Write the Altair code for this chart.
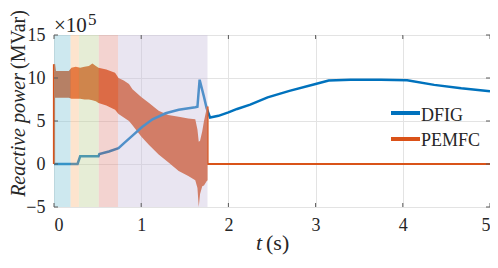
import altair as alt
import pandas as pd

W, H = 436, 172

# shaded time windows (s)
reg_start = [0.0, 0.19, 0.286, 0.514, 0.735]
reg_end = [0.19, 0.286, 0.514, 0.735, 1.76]
reg_color = ["#82c6d7", "#fabb84", "#c1d299", "#e1918a", "#c8bedc"]

# DFIG reactive power (x1e5 MVar)
dfig_t = [0, 0.27, 0.30, 0.51, 0.52, 0.63, 0.74, 0.80, 0.90, 1.01, 1.13, 1.28,
          1.43, 1.62, 1.645, 1.67, 1.72, 1.75, 1.79, 1.886, 2.0, 2.1, 2.25,
          2.45, 2.7, 3.0, 3.15, 3.4, 3.75, 4.05, 4.36, 4.67, 5.0]
dfig_v = [0, 0, 0.9, 0.9, 1.15, 1.45, 1.85, 2.4, 3.3, 4.3, 5.2, 5.9,
          6.3, 6.6, 6.65, 9.8, 7.8, 6.5, 5.4, 5.6, 6.0, 6.4, 6.9,
          7.75, 8.5, 9.3, 9.7, 9.8, 9.8, 9.75, 9.2, 8.8, 8.45]

# PEMFC oscillation envelope (x1e5 MVar)
band_t = [0.01, 0.05, 0.10, 0.17, 0.20, 0.25, 0.30, 0.35, 0.40, 0.44, 0.48,
          0.51, 0.60, 0.70, 0.74, 0.80, 0.86, 0.90, 1.00, 1.09, 1.20, 1.31,
          1.43, 1.54, 1.62, 1.645, 1.66, 1.675, 1.70, 1.72, 1.75, 1.76]
band_hi = [10.8, 10.8, 10.8, 10.8, 11.2, 11.3, 11.2, 11.3, 11.4, 11.7, 11.4,
           11.2, 11.0, 10.6, 10.0, 9.7, 9.3, 8.7, 7.8, 7.1, 6.2, 5.7,
           5.5, 5.3, 5.2, 4.0, 2.6, 2.7, 3.8, 5.0, 6.4, 6.7]
band_lo = [7.7, 7.7, 7.7, 7.7, 7.6, 7.6, 7.6, 7.5, 7.5, 7.4, 7.3,
           7.1, 6.8, 6.3, 5.8, 5.4, 5.0, 4.5, 3.2, 2.2, 1.1, 0.2,
           -0.8, -1.4, -1.9, -2.8, -5.0, -3.5, -2.6, -2.5, -2.0, -1.9]

# PEMFC outer trace segments
pem_t = [0, 0, 0.01, 1.76, 1.76, 5.0]
pem_v = [0, 11.6, 10.8, 6.7, 0, 0]
pem_seg = [0, 0, 0, 1, 1, 1]

x_ticks = [0, 1, 2, 3, 4, 5]
y_ticks = [-5, 0, 5, 10, 15]

BLUE = "#0072BD"
ORANGE = "#D95319"
FRAME = "#5a5a5a"
FONT = "Liberation Serif, Times New Roman, serif"

xs = alt.Scale(domain=[0, 5], nice=False, zero=False)
ys = alt.Scale(domain=[-5, 15], nice=False, zero=False)
x_axis = alt.Axis(values=x_ticks, title=None, grid=True, ticks=False, tickSize=0,
                  domain=False, labelPadding=9, labelFontSize=18, labelFont=FONT,
                  labelColor="#262626", gridColor="#e3e3e3")
y_axis = alt.Axis(values=y_ticks, title=None, grid=True, ticks=False, tickSize=0,
                  domain=False, labelPadding=9, labelFontSize=18, labelFont=FONT,
                  labelColor="#262626", gridColor="#e3e3e3")

band_df = pd.DataFrame({"t": band_t, "hi": band_hi, "lo": band_lo})
dfig_df = pd.DataFrame({"t": dfig_t, "v": dfig_v})
pem_df = pd.DataFrame({"t": pem_t, "v": pem_v, "seg": pem_seg})
reg_df = pd.DataFrame({"x0": reg_start, "x1": reg_end, "c": reg_color})
xt_df = pd.DataFrame({"t": x_ticks})
yt_df = pd.DataFrame({"v": y_ticks})

band = alt.Chart(band_df).mark_area(color=ORANGE, opacity=1, interpolate="linear").encode(
    x=alt.X("t:Q", scale=xs, axis=x_axis),
    y=alt.Y("hi:Q", scale=ys, axis=y_axis),
    y2="lo:Q",
)

dfig = alt.Chart(dfig_df).mark_line(color=BLUE, strokeWidth=2.5).encode(
    x=alt.X("t:Q", scale=xs, axis=x_axis),
    y=alt.Y("v:Q", scale=ys, axis=y_axis),
)

pem = alt.Chart(pem_df).mark_line(color=ORANGE, strokeWidth=2.2).encode(
    x=alt.X("t:Q", scale=xs, axis=x_axis),
    y=alt.Y("v:Q", scale=ys, axis=y_axis),
    detail="seg:N",
    order=alt.Order("t:Q"),
)

regions = alt.Chart(reg_df).mark_rect(opacity=0.4).encode(
    x=alt.X("x0:Q", scale=xs, axis=x_axis),
    x2="x1:Q",
    y=alt.value(0),
    y2=alt.value(H),
    color=alt.Color("c:N", scale=None),
)

tick_b = alt.Chart(xt_df).mark_rule(color=FRAME, strokeWidth=1).encode(
    x=alt.X("t:Q", scale=xs, axis=x_axis), y=alt.value(H), y2=alt.value(H - 4))
tick_t = alt.Chart(xt_df).mark_rule(color=FRAME, strokeWidth=1).encode(
    x=alt.X("t:Q", scale=xs, axis=x_axis), y=alt.value(0), y2=alt.value(4))
tick_l = alt.Chart(yt_df).mark_rule(color=FRAME, strokeWidth=1).encode(
    y=alt.Y("v:Q", scale=ys, axis=y_axis), x=alt.value(0), x2=alt.value(4))
tick_r = alt.Chart(yt_df).mark_rule(color=FRAME, strokeWidth=1).encode(
    y=alt.Y("v:Q", scale=ys, axis=y_axis), x=alt.value(W), x2=alt.value(W - 4))

# legend
leg_d_line = alt.Chart(dfig_df).mark_rule(color=BLUE, strokeWidth=2.5).encode(
    x=alt.value(337), x2=alt.value(366), y=alt.value(78))
leg_p_line = alt.Chart(dfig_df).mark_rule(color=ORANGE, strokeWidth=2.5).encode(
    x=alt.value(337), x2=alt.value(366), y=alt.value(104))

def txt(s, x, y, size=18, align="left", style="normal", angle=0):
    return alt.Chart(pd.DataFrame({"a": [0]})).mark_text(
        text=s, font=FONT, fontSize=size, align=align, baseline="alphabetic",
        fontStyle=style, angle=angle, color="#262626"
    ).encode(x=alt.value(x), y=alt.value(y))

texts = [
    txt("DFIG", 367, 86),
    txt("PEMFC", 367, 111),
    txt("\u00d710", 0, -3, size=21),
    txt("5", 34, -10, size=17),
    txt("t", 208, 215, size=22, align="right", style="italic"),
    txt("(s)", 212, 215, size=22),
    txt("Reactive power", -29, 38, size=20, align="right", style="italic", angle=270),
    txt("(MVar)", -29, 34, size=20, align="left", angle=270),
]

chart = alt.layer(
    band, dfig, pem, regions, tick_b, tick_t, tick_l, tick_r,
    leg_d_line, leg_p_line, *texts
).properties(
    width=W, height=H,
    padding={"left": 46, "top": 27, "right": 0, "bottom": 48},
    autosize=alt.AutoSizeParams(type="none"),
).configure_view(stroke=FRAME, strokeWidth=1).configure(background="white")

chart.save("out.html", embed_options={"renderer": "svg", "actions": False})
